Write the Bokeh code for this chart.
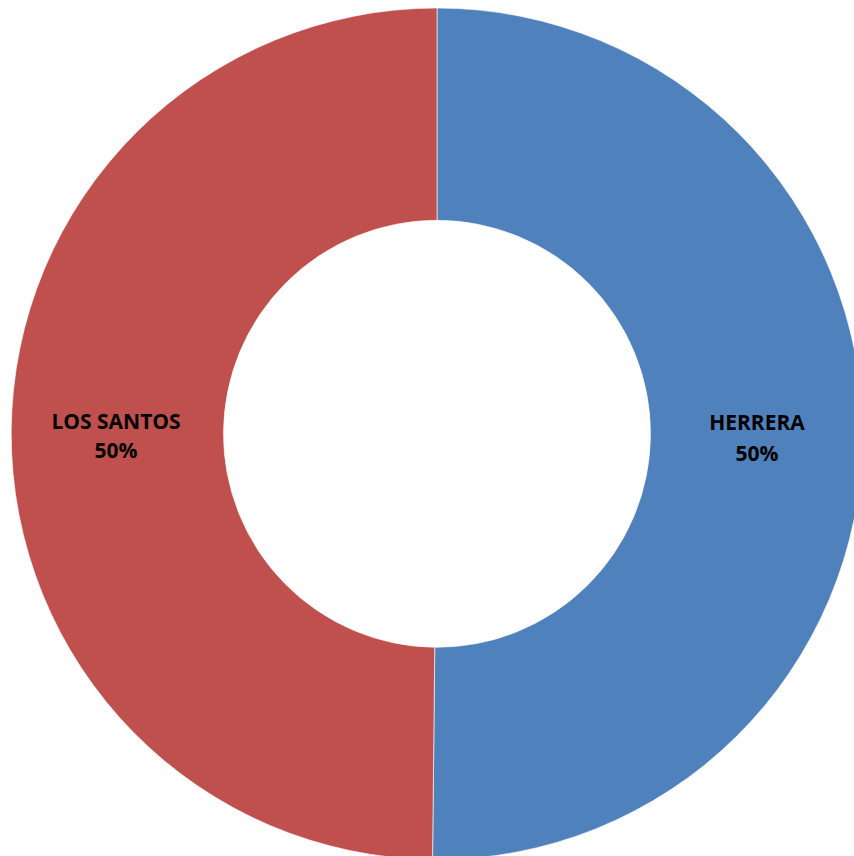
import math
from bokeh.plotting import figure
from bokeh.models import Range1d
from bokeh.core.properties import value
from bokeh.embed import file_html
from bokeh.resources import INLINE

# Data
categories = ["HERRERA", "LOS SANTOS"]
values = [301, 299]
colors = ["#4F81BD", "#C0504D"]

W, H = 854, 856
p = figure(width=W, height=H, output_backend="svg", toolbar_location=None,
           x_range=Range1d(0, W), y_range=Range1d(0, H), min_border=0)
p.axis.visible = False
p.grid.visible = False
p.outline_line_color = None
p.background_fill_color = "white"
p.border_fill_color = "white"

cx, cy = 436.5, H - 433.3
r_out, r_in = 425.8, 213.5

total = float(sum(values))
start = math.pi / 2
label_pos = {
    "HERRERA": (756.5, H - 421, H - 452),
    "LOS SANTOS": (115.5, H - 420, H - 449),
}
for cat, v, c in zip(categories, values, colors):
    end = start - 2 * math.pi * v / total
    p.annular_wedge(x=[cx], y=[cy], inner_radius=r_in, outer_radius=r_out,
                    start_angle=[start], end_angle=[end], direction="clock",
                    fill_color=c, line_color="white", line_width=1, line_alpha=0.6)
    start = end
    lx, ly1, ly2 = label_pos[cat]
    pct = f"{round(100 * v / total)}%"
    for txt, ty in ((cat, ly1), (pct, ly2)):
        p.text(x=[lx], y=[ty], text=[txt], text_align="center", text_baseline="middle",
               text_font=value("Open Sans"), text_font_style="bold", text_font_size="21px",
               text_color="black")

open("out.html", "w").write(file_html(p, INLINE))
